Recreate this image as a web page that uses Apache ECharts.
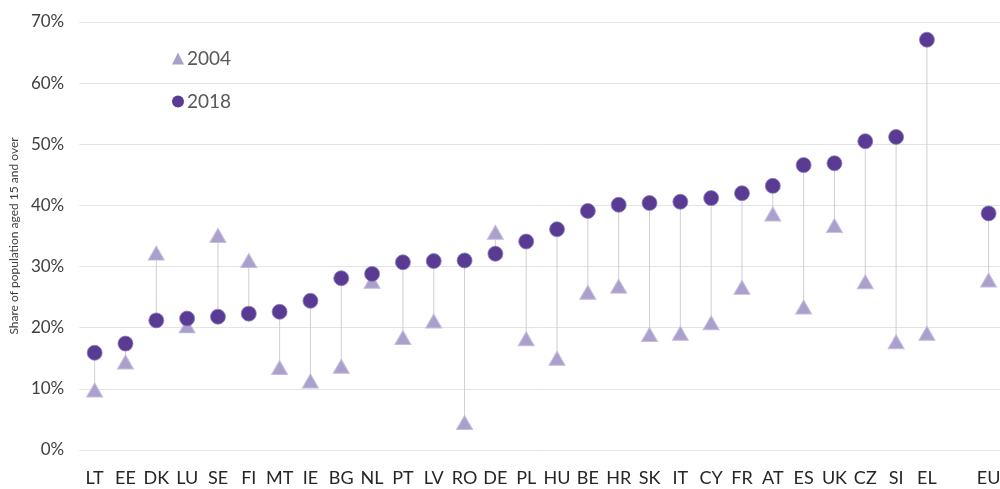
<!DOCTYPE html>
<html>
<head>
<meta charset="utf-8">
<script src="https://cdn.jsdelivr.net/npm/echarts@6/dist/echarts.min.js"></script>
<style>html,body{margin:0;padding:0;background:#fff;overflow:hidden}#c{width:1004px;height:489px}</style>
</head>
<body>
<div id="c"></div>
<script>
const categories = ['LT','EE','DK','LU','SE','FI','MT','IE','BG','NL','PT','LV','RO','DE','PL','HU','BE','HR','SK','IT','CY','FR','AT','ES','UK','CZ','SI','EL','','EU'];
const values2004 = [9.8,14.4,32.2,20.3,35.1,31.0,13.5,11.3,13.7,27.6,18.4,21.1,4.5,35.6,18.2,15.0,25.8,26.8,18.9,19.1,20.8,26.6,38.6,23.4,36.7,27.5,17.7,19.1,null,27.8];
const values2018 = [15.9,17.4,21.2,21.5,21.8,22.3,22.6,24.4,28.1,28.8,30.7,30.9,31.0,32.1,34.1,36.1,39.1,40.1,40.4,40.6,41.2,42.0,43.2,46.6,46.9,50.5,51.2,67.1,null,38.7];
const yTicks = [0,10,20,30,40,50,60,70];

const FONT = 'Lato, "Open Sans", sans-serif';
const chart = echarts.init(document.getElementById('c'), null, {renderer:'canvas'});
const pairs = categories.map((c,i)=>[i, values2004[i], values2018[i]]).filter(p=>p[1]!=null && p[2]!=null);

chart.setOption({
  animation:false,
  textStyle:{fontFamily:FONT},
  grid:{left:77,right:0,top:22,bottom:39,containLabel:false},
  legend:{
    orient:'vertical', left:167, top:44, itemGap:24, itemWidth:12, itemHeight:12,
    textStyle:{fontFamily:FONT,fontSize:19,color:'#595959',padding:[0,0,0,-2]},
    data:[{name:'2004',icon:'triangle',itemStyle:{borderWidth:0}},{name:'2018',icon:'circle',itemStyle:{borderWidth:0}}]
  },
  xAxis:{
    type:'category', data:categories, boundaryGap:true,
    axisLine:{show:false}, axisTick:{show:false},
    axisLabel:{fontFamily:FONT,fontSize:18,color:'#262626',margin:19,interval:0}
  },
  yAxis:{
    type:'value', min:0, max:70, interval:10,
    name:'Share of population aged 15 and over', nameLocation:'middle', nameGap:57, nameRotate:90,
    nameTextStyle:{fontFamily:FONT,fontSize:12,color:'#404040'},
    axisLine:{show:false}, axisTick:{show:false},
    axisLabel:{fontFamily:FONT,fontSize:17,color:'#404040',margin:15,
      formatter:v=>yTicks.includes(v)?v+'%':''},
    splitLine:{lineStyle:{color:'#e4e4e4',width:1}}
  },
  series:[
    {
      type:'custom', name:'link', silent:true, z:1,
      data:pairs,
      renderItem:(params,api)=>{
        const a=api.coord([api.value(0),api.value(1)]);
        const b=api.coord([api.value(0),api.value(2)]);
        return {type:'line',shape:{x1:a[0],y1:a[1],x2:b[0],y2:b[1]},style:{stroke:'#cfcfd6',lineWidth:1}};
      }
    },
    {
      type:'scatter', name:'2004', data:values2004, symbol:'triangle', symbolSize:[16,14], z:2,
      itemStyle:{color:'#ab9fcb',borderColor:'#c5bde0',borderWidth:1,opacity:1}
    },
    {
      type:'scatter', name:'2018', data:values2018, symbol:'circle', symbolSize:15, z:3,
      itemStyle:{color:'#5a3b93',borderColor:'#8d80bd',borderWidth:0.8,opacity:1}
    }
  ]
});
</script>
</body>
</html>
